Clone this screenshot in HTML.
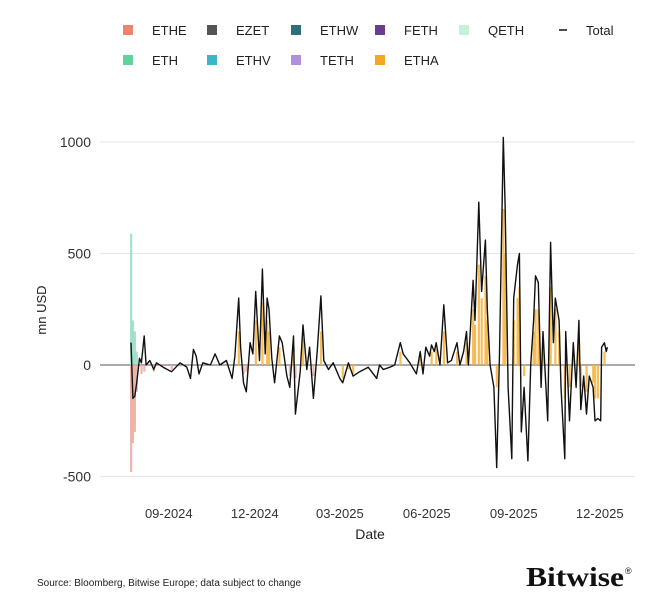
<!DOCTYPE html>
<html><head><meta charset="utf-8"><style>
body{margin:0;background:#fff;font-family:"Liberation Sans",sans-serif;}
#c{position:relative;width:671px;height:615px;overflow:hidden}
</style></head><body>
<div id="c">
<svg id="s" width="671" height="615"></svg>
</div>
<script>
// days since 2024-07-23, value in mn USD
const totalDays=[0,2,4,6,9,11,14,16,20,24,27,34,43,52,59,63,66,69,72,76,84,89,94,101,107,110,114,116,119,122,126,129,132,136,139,142,144,146,149,152,157,160,165,168,172,174,179,182,186,189,193,197,201,204,209,214,221,224,230,235,242,251,260,263,267,274,279,285,288,295,302,306,309,312,316,318,321,323,327,331,335,339,345,348,352,355,357,362,364,368,371,375,377,380,384,387,390,394,396,399,403,405,409,411,413,416,420,423,426,428,431,434,436,441,444,447,449,453,455,459,460,464,468,471,474,476,479,482,485,489,491,494,497,498,501,503,504];
const totalVals=[100,-150,-140,-80,30,10,130,0,20,-20,10,-10,-30,10,-10,-60,70,40,-40,10,0,50,0,20,-60,40,300,80,-80,-120,100,50,330,20,430,50,300,250,30,-80,130,100,-50,-100,130,-220,-30,180,-20,80,-150,60,310,20,-20,10,-60,-80,10,-50,-30,-10,-60,0,-20,-10,0,100,50,10,-40,60,-40,80,40,90,60,100,0,270,10,20,100,0,60,150,0,380,200,730,330,560,250,0,-100,-460,50,1020,700,-100,-420,300,450,500,-300,-100,-430,0,200,400,370,-100,150,-250,550,100,300,200,-100,-420,150,-250,100,-100,200,-200,-50,-220,-50,-100,-250,-240,-250,80,100,60,80];
const ethaDays=[114,132,139,144,146,157,172,182,201,224,230,235,285,306,318,323,331,345,355,362,364,368,371,375,377,387,394,396,405,409,411,416,426,428,431,436,444,449,453,459,464,468,474,476,482,489,491,494,501];
const ethaVals=[150,200,280,200,150,80,80,120,150,-60,-20,-40,60,40,60,70,150,60,100,250,180,450,300,400,200,-100,700,500,200,300,350,-50,150,250,250,100,350,250,150,-150,-100,60,100,-100,-120,-80,-150,-150,60];
const etheDays=[0,2,4,6,11,14,24,43,119,122,168,174,193];
const etheVals=[-480,-350,-300,-120,-40,-30,-30,-20,-40,-30,-50,-60,-50];
const ethDays=[0,2,4,6];
const ethVals=[590,200,150,60];
const yTicks=[1000,500,0,-500];
const yTickLabels=["1000","500","0","-500"];
const xTickDays=[40,131,221,313,405,496];
const xTickLabels=["09-2024","12-2024","03-2025","06-2025","09-2025","12-2025"];

const NS="http://www.w3.org/2000/svg",s=document.getElementById('s');
const X=d=>131+d*0.945, Y=v=>365-v*0.223;
function el(t,a,txt){const e=document.createElementNS(NS,t);for(const k in a)e.setAttribute(k,a[k]);if(txt!==undefined)e.textContent=txt;s.appendChild(e);return e;}
yTicks.forEach((v,i)=>{
 const g=el('line',{x1:100,x2:635,y1:Y(v),y2:Y(v),stroke:v===0?'#555':'#e6e6e6','stroke-width':1});
 
 
 const t=el('text',{x:91,y:Y(v)+5,'text-anchor':'end','font-size':14,fill:'#333'},yTickLabels[i]);
 
 
});
xTickDays.forEach((d,i)=>{
 const t=el('text',{x:X(d),y:518,'text-anchor':'middle','font-size':13,fill:'#333'},xTickLabels[i]);
 
 
});
function bars(days,vals,color,name,op){
 days.forEach((d,i)=>{const v=vals[i];
  const r=el('rect',{x:X(d)-1,y:Math.min(Y(v),Y(0)),width:2.2,height:Math.abs(Y(v)-Y(0)),fill:color,opacity:op});
  
  
 });
}
bars(etheDays,etheVals,'#e9a597','bar-ethe',0.8);
bars(ethDays,ethVals,'#8fd9c0','bar-eth',0.8);
bars(ethaDays,ethaVals,'#f5b13c','bar-etha',0.85);
const pts=totalDays.map((d,i)=>X(d).toFixed(1)+','+Y(totalVals[i]).toFixed(1)).join(' ');
const pl=el('polyline',{points:pts,fill:'none',stroke:'#111','stroke-width':1.4,'stroke-linejoin':'round'});


const yt=el('text',{x:46,y:310,'text-anchor':'middle','font-size':13,fill:'#222',transform:'rotate(-90 46 310)'},'mn USD');


const xt=el('text',{x:370,y:539,'text-anchor':'middle','font-size':14,fill:'#222'},'Date');


const leg=[["ETHE","#f0836e",128,30],["EZET","#555555",212,30],["ETHW","#2e6f7a",296,30],["FETH","#6a3d8f",380,30],["QETH","#c8f0d8",464,30],["ETH","#5fd39a",128,60],["ETHV","#3bb5c8",212,60],["TETH","#b08fe0",296,60],["ETHA","#f5a623",380,60]];
leg.forEach(l=>{
 const r=el('rect',{x:l[2]-5,y:l[3]-5,width:10,height:10,fill:l[1]});
 
 
 const t=el('text',{x:l[2]+24,y:l[3]+5,'font-size':13,fill:'#222'},l[0]);
 
 
});
const tl=el('line',{x1:559,x2:567,y1:30,y2:30,stroke:'#111','stroke-width':1.5});


const tt=el('text',{x:586,y:35,'font-size':13,fill:'#222'},'Total');


const src=el('text',{x:37,y:586,'font-size':10,fill:'#222'},'Source: Bloomberg, Bitwise Europe; data subject to change');


const lg=el('text',{x:526,y:586,'font-size':27,'font-weight':'bold','font-family':'Liberation Serif, serif',fill:'#111',textLength:98,lengthAdjust:'spacingAndGlyphs'},'Bitwise');


const rg=el('text',{x:625,y:574,'font-size':9,fill:'#111'},'®');


</script>
</body></html>
